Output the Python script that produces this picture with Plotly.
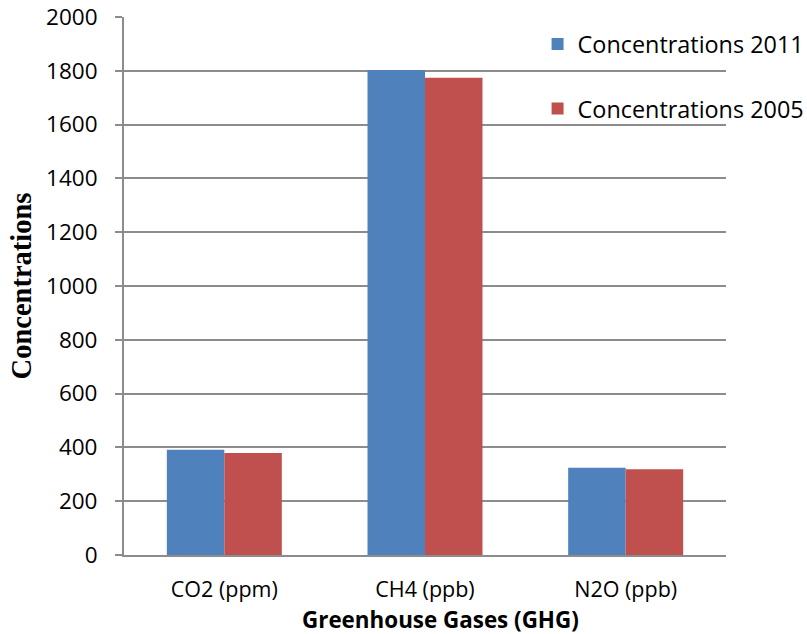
import plotly.graph_objects as go

categories = ["CO2 (ppm)", "CH4 (ppb)", "N2O (ppb)"]
conc_2011 = [391, 1803, 324]
conc_2005 = [379, 1774, 319]
series_names = ["Concentrations 2011", "Concentrations 2005"]
y_ticks = [0, 200, 400, 600, 800, 1000, 1200, 1400, 1600, 1800, 2000]

BLUE = "#4f81bd"
RED = "#c0504d"
GRID = "#8c8c8c"

fig = go.Figure()
fig.add_trace(go.Bar(x=categories, y=conc_2011, name=series_names[0],
                     marker=dict(color=BLUE, line=dict(width=0)), legendgroup="a"))
fig.add_trace(go.Bar(x=categories, y=conc_2005, name=series_names[1],
                     marker=dict(color=RED, line=dict(width=0)), legendgroup="b"))

fig.update_layout(
    width=807, height=634,
    margin=dict(l=124, r=81, t=17, b=79, autoexpand=False),
    paper_bgcolor="white", plot_bgcolor="white",
    barmode="group", bargap=0.427, bargroupgap=0,
    font=dict(family="Open Sans", color="black"),
    legend=dict(x=0.687, y=0.99, xanchor="left", yanchor="top",
                font=dict(size=23.4, family="Open Sans"),
                bgcolor="rgba(0,0,0,0)", tracegroupgap=31,
                itemwidth=30, traceorder="grouped"),
    xaxis=dict(type="category", range=[-0.5, 2.5],
               showline=True, linecolor=GRID, linewidth=2,
               ticks="", tickfont=dict(size=21.5, family="Open Sans"),
               ticklabelstandoff=14),
    yaxis=dict(range=[0, 2000], tickvals=y_ticks,
               showgrid=True, gridcolor=GRID, gridwidth=2,
               showline=True, linecolor=GRID, linewidth=2,
               ticks="outside", ticklen=7, tickcolor=GRID, tickwidth=2,
               tickfont=dict(size=22.5, family="Open Sans"),
               ticklabelstandoff=13,
               zeroline=False,
               title=dict(text="<b>Concentrations</b>",
                          font=dict(size=28.5, family="Liberation Serif"), standoff=6)),
    annotations=[dict(text="<b>Greenhouse Gases (GHG)</b>", xref="paper", yref="paper",
                      x=0.526, y=-0.1208, xanchor="center", yanchor="middle",
                      showarrow=False, font=dict(size=22.4, family="Open Sans", color="black"))],
)

fig.write_html("out.html")
